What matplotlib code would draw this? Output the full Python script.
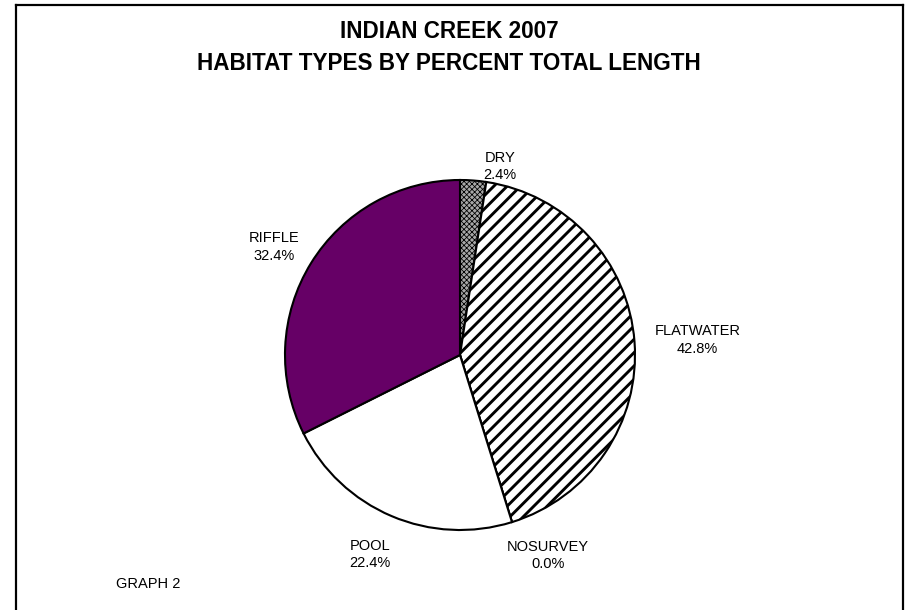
import numpy as np
import matplotlib
matplotlib.use('Agg')
import matplotlib.pyplot as plt
from matplotlib.lines import Line2D

# 以80dpi绘制, 让斜线填充更密; 尺寸统一按像素换算成磅
DPI = 80
W, H = 907, 610


def pt(px):
    return px * 72 / DPI


plt.rcParams['font.family'] = ['Liberation Sans', 'DejaVu Sans']
plt.rcParams['hatch.linewidth'] = pt(2.9)

# 生境类型及其占总长度的百分比
habitats = ['DRY', 'FLATWATER', 'NOSURVEY', 'POOL', 'RIFFLE']
percents = [2.4, 42.8, 0.0, 22.4, 32.4]

colors = ['#a8a8a8', 'white', 'white', 'white', '#660066']
hatches = ['xxxxx', '//', None, None, None]
# 标签离圆心的距离(半径倍数)和相对扇区中线的角度偏移
label_dist = [1.10, 1.36, 1.25, 1.25, 1.23]
label_shift = [-7.7, -0.7, 6.5, -1.3, 1.6]

fig = plt.figure(figsize=(W / DPI, H / DPI), dpi=DPI)

# 外框 (底边在图外)
x0, x1, y0 = 16 / W, 903 / W, 1 - 5 / H
for xs, ys in [([x0, x0], [0, y0]), ([x0, x1], [y0, y0]), ([x1, x1], [y0, 0])]:
    fig.add_artist(Line2D(xs, ys, color='black', lw=pt(2.2), transform=fig.transFigure))

fig.text(449 / W, 1 - 47 / H, 'INDIAN CREEK 2007\nHABITAT TYPES BY PERCENT TOTAL LENGTH',
         ha='center', va='center', fontsize=pt(22.5), fontweight='bold', linespacing=1.5)

# 饼图区域
cx, cy, r = 460, 355, 175
ax = fig.add_axes([(cx - r) / W, (H - cy - r) / H, 2 * r / W, 2 * r / H])
wedges, _ = ax.pie(percents, colors=colors, startangle=90, counterclock=False,
                   wedgeprops=dict(edgecolor='black', linewidth=pt(2.1)))
for w, h in zip(wedges, hatches):
    if h:
        w.set_hatch(h)
        if h.startswith('x') and hasattr(w, 'set_hatch_linewidth'):
            w.set_hatch_linewidth(pt(0.8))
ax.set_xlim(-1, 1)
ax.set_ylim(-1, 1)
ax.set_aspect('equal')
ax.axis('off')

# 标签: 名称 + 百分比
for w, name, pct, d, s in zip(wedges, habitats, percents, label_dist, label_shift):
    ang = np.deg2rad((w.theta1 + w.theta2) / 2 + s)
    ax.text(d * np.cos(ang), d * np.sin(ang), f'{name}\n{pct:.1f}%',
            ha='center', va='center', fontsize=pt(14.6), linespacing=1.3, clip_on=False)

fig.text(116 / W, 1 - 584 / H, 'GRAPH 2', ha='left', va='center', fontsize=pt(14.6))

plt.savefig('out.png', dpi=DPI)
